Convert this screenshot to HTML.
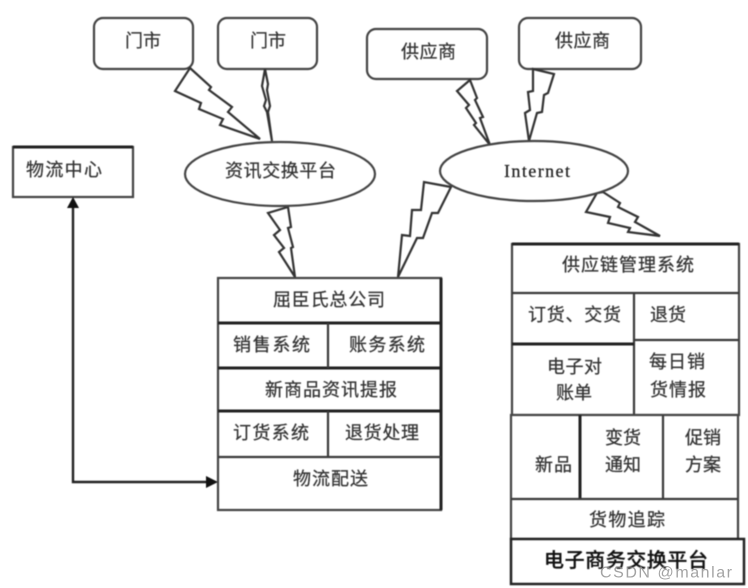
<!DOCTYPE html>
<html>
<head>
<meta charset="utf-8">
<style>
html,body{margin:0;padding:0;background:#fff;width:748px;height:588px;overflow:hidden}
svg{display:block}
text{font-family:"Liberation Sans","Noto Sans CJK SC",sans-serif;font-size:18px;fill:#333;stroke:#333;stroke-width:.25;dominant-baseline:central}
.s{fill:#fff;stroke:#444;stroke-width:2.2}
.b{fill:#fff;stroke:#333;stroke-width:2.2;stroke-linejoin:miter}
.l{stroke:#3a3a3a;stroke-width:2.2;fill:none}
.k{stroke:#222;stroke-width:3;fill:none}
</style>
</head>
<body>
<svg width="748" height="588" viewBox="0 0 748 588" xmlns="http://www.w3.org/2000/svg">
<g style="filter:blur(0.6px)">
<!-- rounded boxes -->
<rect class="s" x="94" y="18" width="99" height="51" rx="9"/>
<rect class="s" x="218" y="18" width="99" height="51" rx="9"/>
<rect class="s" x="367" y="29" width="120" height="50" rx="9"/>
<rect class="s" x="519" y="18" width="122" height="51" rx="9"/>
<!-- logistics -->
<rect class="s" x="13" y="147" width="120" height="50"/>
<line class="k" x1="13" y1="147" x2="133" y2="147"/>
<!-- bolts -->
<polygon class="b" points="190,68 211,87 209,90 232,107 228,112 260,139 220,125 223,119 199,109 201,103 175,91"/>
<polygon class="b" points="265,69 268,84 267,90 270,106 268,112 272,141 267,112 264,106 266,100 262,86"/>
<polygon class="b" points="288,207 291,227 288,228 293,247 291,248 295,277 279,252 284,248 274,235 280,230 268,213"/>
<polygon class="b" points="470,80 477,98 475,100 483,117 480,118 490,145 474,125 476,123 466,108 469,105 457,91"/>
<polygon class="b" points="533,69 554,74 548,93 544,95 542,112 537,113 529,141 525,113 530,110 528,92 533,91"/>
<polygon class="b" points="451,187 438,213 432,213 423,238 417,238 398,277 402,235 410,236 412,210 421,210 424,182"/>
<polygon class="b" points="603,192 620,203 618,207 638,217 635,222 660,236 628,232 630,228 608,223 610,217 586,212 597,193"/>
<!-- ellipses -->
<ellipse class="s" cx="280" cy="174" rx="95" ry="32"/>
<ellipse class="s" cx="534" cy="171" rx="94" ry="30"/>
<!-- connector -->
<polyline class="k" style="stroke-width:2.4" points="73,205 73,482 208,482"/>
<polygon points="73,197 67,208 79,208" fill="#111"/>
<polygon points="218,482 206,476 206,488" fill="#111"/>
<!-- left table -->
<rect class="s" x="218" y="278" width="223" height="232"/>
<line class="k" x1="441" y1="278" x2="441" y2="510"/>
<line class="k" x1="218" y1="323" x2="441" y2="323"/>
<line class="k" x1="218" y1="368" x2="441" y2="368"/>
<line class="k" x1="218" y1="411" x2="441" y2="411"/>
<line class="l" x1="218" y1="457" x2="441" y2="457"/>
<line class="l" x1="328" y1="323" x2="328" y2="368"/>
<line class="l" x1="328" y1="411" x2="328" y2="457"/>
<!-- right table -->
<rect class="s" x="512" y="244" width="227" height="171"/>
<line class="k" x1="512" y1="244" x2="739" y2="244"/>
<line class="l" x1="512" y1="293" x2="739" y2="293"/>
<line class="l" x1="634" y1="293" x2="634" y2="415"/>
<line class="k" x1="512" y1="344" x2="634" y2="344"/>
<line class="l" x1="634" y1="340" x2="739" y2="340"/>
<rect class="s" x="511" y="415" width="227" height="124"/>
<line class="k" x1="580" y1="415" x2="580" y2="499"/>
<line class="l" x1="663" y1="415" x2="663" y2="499"/>
<line class="l" x1="511" y1="499" x2="738" y2="499"/>
<rect x="511" y="539" width="233" height="45" fill="#fff" stroke="#222" stroke-width="2.5"/>
<!-- labels -->
<text x="125" y="41" textLength="36" lengthAdjust="spacing">门市</text>
<text x="250" y="41" textLength="36" lengthAdjust="spacing">门市</text>
<text x="401" y="52" textLength="55" lengthAdjust="spacing">供应商</text>
<text x="555" y="41" textLength="55" lengthAdjust="spacing">供应商</text>
<text x="26" y="170" textLength="76" lengthAdjust="spacing">物流中心</text>
<text x="225" y="171" textLength="111" lengthAdjust="spacing">资讯交换平台</text>
<text x="504" y="171" textLength="66" lengthAdjust="spacing" style='font-family:"Liberation Serif",serif;font-size:18px;fill:#222;stroke:#222'>Internet</text>
<text x="273" y="300" textLength="112" lengthAdjust="spacing">屈臣氏总公司</text>
<text x="233" y="345" textLength="77" lengthAdjust="spacing">销售系统</text>
<text x="349" y="345" textLength="76" lengthAdjust="spacing">账务系统</text>
<text x="265" y="390" textLength="132" lengthAdjust="spacing">新商品资讯提报</text>
<text x="233" y="433" textLength="76" lengthAdjust="spacing">订货系统</text>
<text x="345" y="433" textLength="74" lengthAdjust="spacing">退货处理</text>
<text x="293" y="479" textLength="75" lengthAdjust="spacing">物流配送</text>
<text x="562" y="265" textLength="132" lengthAdjust="spacing">供应链管理系统</text>
<text x="528" y="315" textLength="93" lengthAdjust="spacing">订货、交货</text>
<text x="650" y="315" textLength="36" lengthAdjust="spacing">退货</text>
<text x="547" y="367" textLength="55" lengthAdjust="spacing">电子对</text>
<text x="556" y="393" textLength="36" lengthAdjust="spacing">账单</text>
<text x="649" y="362" textLength="56" lengthAdjust="spacing">每日销</text>
<text x="650" y="390" textLength="56" lengthAdjust="spacing">货情报</text>
<text x="535" y="465" textLength="37" lengthAdjust="spacing">新品</text>
<text x="605" y="438" textLength="36" lengthAdjust="spacing">变货</text>
<text x="605" y="465" textLength="36" lengthAdjust="spacing">通知</text>
<text x="685" y="438" textLength="36" lengthAdjust="spacing">促销</text>
<text x="685" y="465" textLength="36" lengthAdjust="spacing">方案</text>
<text x="589" y="520" textLength="76" lengthAdjust="spacing">货物追踪</text>
<text x="544" y="561" textLength="164" lengthAdjust="spacing" style="font-size:20px;fill:#111;stroke:#111;font-weight:500">电子商务交换平台</text>
</g>
<text x="600" y="573" textLength="132" lengthAdjust="spacing" style="font-size:16px;fill:#8c8c8c;stroke:none;fill-opacity:.8">CSDN @manlar</text>
</svg>
</body>
</html>
